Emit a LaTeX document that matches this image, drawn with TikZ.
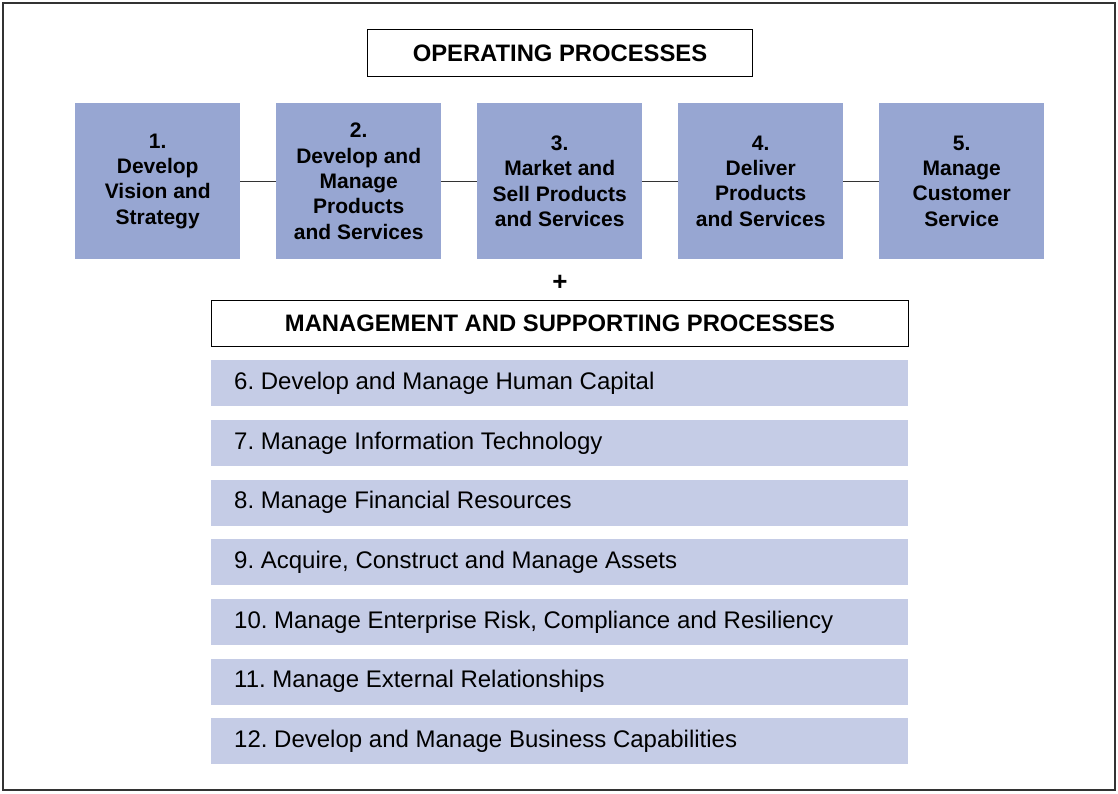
\documentclass[tikz,border=0pt]{standalone}
\usepackage{fontspec}
\setmainfont{Liberation Sans}
\frenchspacing
\definecolor{opblue}{HTML}{97A6D2}
\definecolor{rowblue}{HTML}{C5CCE6}
\definecolor{framegray}{HTML}{333333}
\begin{document}
\begin{tikzpicture}[x=1pt,y=-1pt,
  opbox/.style={fill=opblue,draw=none,minimum width=165pt,minimum height=156pt,anchor=north west,inner sep=0pt,align=center,font=\fontsize{21}{25.3}\selectfont\bfseries},
  rowbox/.style={fill=rowblue,draw=none,minimum width=697pt,minimum height=46pt,anchor=north west,inner sep=0pt},
  rowtext/.style={anchor=west,font=\fontsize{24}{24}\selectfont,inner sep=0pt},
  headbox/.style={draw=black,line width=1pt,fill=white,anchor=north west,inner sep=0pt,font=\fontsize{23.8}{24}\selectfont\bfseries},
  link/.style={draw=black!80,line width=1pt}]
\useasboundingbox (0,0) rectangle (1118,793);
\draw[framegray,line width=2pt] (3,3) rectangle (1115,790);
\node[headbox,minimum width=385pt,minimum height=47pt] (op) at (367,29) {OPERATING PROCESSES};
\node[opbox] (p1) at (75,103) {1.\\Develop\\Vision and\\Strategy};
\node[opbox] (p2) at (276,103) {2.\\Develop and\\Manage\\Products\\and Services};
\node[opbox] (p3) at (477,103) {3.\\Market and\\Sell Products\\and Services};
\node[opbox] (p4) at (678,103) {4.\\Deliver\\Products\\and Services};
\node[opbox] (p5) at (879,103) {5.\\Manage\\Customer\\Service};
\draw[link] (p1.east |- 0,181) -- (p2.west |- 0,181);
\draw[link] (p2.east |- 0,181) -- (p3.west |- 0,181);
\draw[link] (p3.east |- 0,181) -- (p4.west |- 0,181);
\draw[link] (p4.east |- 0,181) -- (p5.west |- 0,181);
\node[font=\fontsize{26}{26}\selectfont\bfseries,inner sep=0pt] (plus) at (560,283) {+};
\node[headbox,minimum width=697pt,minimum height=46pt] (mg) at (211,300) {MANAGEMENT AND SUPPORTING PROCESSES};
\foreach \i/\y/\t in {6/360/{6. Develop and Manage Human Capital},
                      7/419.7/{7. Manage Information Technology},
                      8/479.3/{8. Manage Financial Resources},
                      9/539/{9. Acquire, Construct and Manage Assets},
                      10/598.7/{10. Manage Enterprise Risk, Compliance and Resiliency},
                      11/658.3/{11. Manage External Relationships},
                      12/718/{12. Develop and Manage Business Capabilities}} {
  \node[rowbox] (r\i) at (211,\y) {};
  \node[rowtext] (t\i) at ([xshift=23pt]r\i.west) {\t};
}
\end{tikzpicture}
\end{document}
